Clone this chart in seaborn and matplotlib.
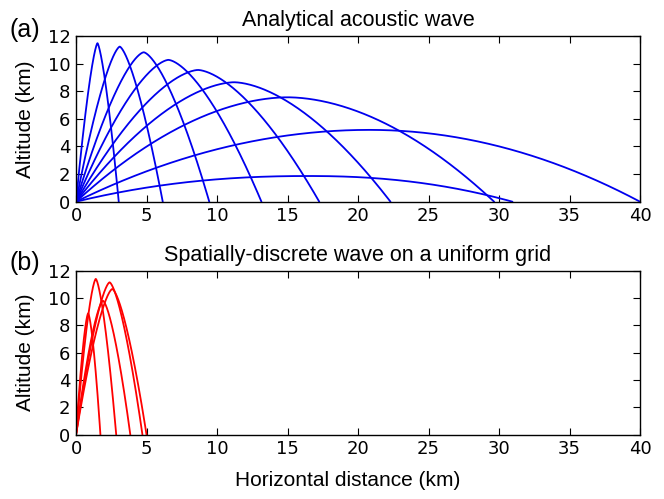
import numpy as np
import matplotlib
matplotlib.use('Agg')
import matplotlib.pyplot as plt
import seaborn as sns

# Ray paths: peak position, peak altitude, landing distance (km)
blue_peak_x = [1.52, 3.1, 4.8, 6.55, 8.65, 11.2, 15.0, 20.8, 16.5]
blue_peak_h = [11.48, 11.23, 10.82, 10.27, 9.54, 8.65, 7.56, 5.2, 1.86]
blue_land_x = [3.03, 6.15, 9.45, 13.15, 17.25, 22.3, 29.65, 40.0, 30.95]
blue_shape = [1.4, 1.45, 1.5, 1.55, 1.6, 1.7, 1.85, 2.0, 2.2]

red_peak_x = [0.86, 1.4, 1.91, 2.38, 2.57]
red_peak_h = [8.88, 11.4, 9.8, 11.15, 10.66]
red_land_x = [1.73, 2.85, 3.85, 4.71, 5.0]
red_shape = [1.5, 1.5, 1.5, 1.5, 1.5]

x_ticks = [0, 5, 10, 15, 20, 25, 30, 35, 40]
y_ticks = [0, 2, 4, 6, 8, 10, 12]


def ray(xp, hp, xl, k):
    # arc through (0,0), (xp,hp), (xl,0)
    u = np.linspace(-1, 1, 401)
    z = hp * (1 - np.abs(u) ** k)
    x = np.where(u < 0, xp * (1 + u), xp + (xl - xp) * u)
    return x, z


sns.set_style('ticks')
plt.rcParams['font.family'] = ['Liberation Sans', 'DejaVu Sans']
plt.rcParams['text.color'] = 'black'
plt.rcParams['axes.labelcolor'] = 'black'
plt.rcParams['xtick.direction'] = 'in'
plt.rcParams['ytick.direction'] = 'in'
plt.rcParams['xtick.top'] = True
plt.rcParams['ytick.right'] = True
plt.rcParams['axes.edgecolor'] = 'black'
plt.rcParams['axes.linewidth'] = 1.0

fig = plt.figure(figsize=(6.64, 4.99), dpi=100)
ax1 = fig.add_axes([0.1145, 0.5958, 0.8494, 0.3321])
ax2 = fig.add_axes([0.1145, 0.1289, 0.8494, 0.3286])

for xp, hp, xl, k in zip(blue_peak_x, blue_peak_h, blue_land_x, blue_shape):
    x, z = ray(xp, hp, xl, k)
    sns.lineplot(x=x, y=z, sort=False, color='#0000ee', lw=1.3, ax=ax1)

for xp, hp, xl, k in zip(red_peak_x, red_peak_h, red_land_x, red_shape):
    x, z = ray(xp, hp, xl, k)
    sns.lineplot(x=x, y=z, sort=False, color='#ff0000', lw=1.3, ax=ax2)

for ax, title, tag, ty in [(ax1, 'Analytical acoustic wave', '(a)', 0.94),
                           (ax2, 'Spatially-discrete wave on a uniform grid', '(b)', 0.472)]:
    ax.set_xlim(0, 40)
    ax.set_ylim(0, 12)
    ax.set_xticks(x_ticks)
    ax.set_yticks(y_ticks)
    ax.tick_params(length=5, width=0.8, labelsize=13, colors='black', pad=4)
    for lab in ax.get_xticklabels() + ax.get_yticklabels():
        lab.set_fontfamily('DejaVu Sans')
    ax.set_title(title, fontsize=15.5, pad=7)
    ax.set_ylabel('Altitude (km)', fontsize=15, labelpad=9)
    fig.text(0.014, ty, tag, fontsize=18, va='center', ha='left')

ax1.set_xlabel('')
ax2.set_xlabel('Horizontal distance (km)', fontsize=15)
ax2.xaxis.set_label_coords(0.482, -0.222)

fig.savefig('out.png', dpi=100)
